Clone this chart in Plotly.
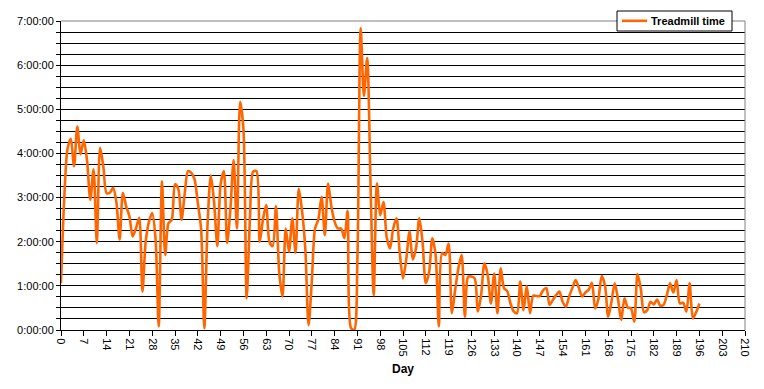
import plotly.graph_objects as go

# Day numbers (x categories)
days = list(range(0, 197))

# Treadmill time in hours
treadmill_hours = [
    1.06, 2.99, 4.10, 4.33, 3.71, 4.61, 3.98, 4.30, 3.83, 2.95,
    3.64, 1.97, 4.13, 3.70, 3.10, 3.11, 3.22, 2.90, 2.05, 3.11,
    2.80, 2.58, 2.12, 2.30, 2.54, 0.87, 2.00, 2.45, 2.65, 2.10,
    0.08, 3.37, 1.70, 2.42, 2.50, 3.30, 3.20, 2.50, 3.10, 3.60,
    3.56, 3.41, 2.88, 2.30, 0.04, 2.40, 3.50, 2.90, 1.90, 3.30,
    3.60, 1.97, 2.73, 3.85, 2.30, 5.17, 4.57, 0.72, 2.50, 3.59,
    3.60, 2.00, 2.50, 2.83, 2.00, 1.90, 2.80, 1.30, 0.76, 2.30,
    1.77, 2.53, 1.75, 3.20, 2.70, 1.85, 0.11, 1.10, 2.30, 2.50,
    3.02, 2.15, 3.32, 2.80, 2.45, 2.30, 2.30, 2.08, 2.70, 0.05,
    0.00, 1.60, 6.84, 5.30, 6.16, 3.40, 0.79, 3.32, 2.60, 2.90,
    2.10, 1.85, 2.30, 2.53, 1.75, 1.17, 1.60, 2.23, 1.60, 1.85,
    2.53, 2.00, 1.06, 1.30, 2.08, 1.70, 0.08, 1.74, 1.70, 1.96,
    0.38, 0.90, 1.40, 1.70, 0.30, 1.21, 1.21, 1.17, 0.42, 0.80,
    1.51, 1.25, 0.60, 1.28, 0.38, 1.40, 0.95, 0.88, 0.60, 0.42,
    0.38, 1.10, 0.45, 1.00, 0.38, 0.78, 0.77, 0.77, 0.90, 0.95,
    0.57, 0.68, 0.79, 0.87, 0.64, 0.53, 0.76, 0.95, 1.13, 0.95,
    0.76, 0.85, 0.91, 1.07, 0.49, 0.70, 1.22, 1.02, 0.30, 0.64,
    1.06, 0.70, 0.23, 0.72, 0.51, 0.49, 0.19, 1.27, 0.94, 0.40,
    0.45, 0.64, 0.58, 0.69, 0.55, 0.57, 0.79, 1.06, 0.85, 1.13,
    0.60, 0.62, 0.42, 1.06, 0.26, 0.40, 0.60,
]

series_name = "Treadmill time"

# Axis ticks
x_ticks = list(range(0, 211, 7))
y_tick_vals = [0, 1, 2, 3, 4, 5, 6, 7]
y_tick_text = ["0:00:00", "1:00:00", "2:00:00", "3:00:00",
               "4:00:00", "5:00:00", "6:00:00", "7:00:00"]

FONT = "Liberation Sans, Arial, sans-serif"
LINE_COLOR = "#FF6600"

# plot area in page pixels: x 61..745, y 21..330
PL, PR, PT, PB = 61, 745, 21, 330
def px(x):
    return (x - PL) / (PR - PL)
def py(y):
    return (PB - y) / (PB - PT)

fig = go.Figure()
fig.add_trace(go.Scatter(
    x=days, y=treadmill_hours, mode="lines",
    name=series_name, showlegend=False,
    line=dict(color=LINE_COLOR, width=2.6, shape="spline", smoothing=0.8),
))

# legend drawn manually (box, sample line, label)
fig.add_annotation(
    x=px(649), y=py(20.8), xref="paper", yref="paper",
    xanchor="left", yanchor="middle", showarrow=False,
    text="<b>" + series_name + "</b>",
    font=dict(family=FONT, size=11, color="black"),
)

fig.update_layout(
    width=764, height=389,
    margin=dict(l=61, r=19, t=21, b=59, autoexpand=False),
    paper_bgcolor="white", plot_bgcolor="white",
    font=dict(family=FONT, size=11, color="black"),
    showlegend=False,
    xaxis=dict(
        range=[0, 210], tickmode="array", tickvals=x_ticks,
        ticktext=[str(v) for v in x_ticks],
        tickangle=90, ticks="outside", ticklen=5, tickcolor="black",
        showgrid=False, zeroline=False, automargin=False,
        showline=True, linecolor="black", linewidth=1,
        title=dict(text="<b>Day</b>", font=dict(family=FONT, size=12), standoff=9),
        tickfont=dict(family=FONT, size=11),
    ),
    yaxis=dict(
        range=[0, 7], tickmode="array", tickvals=y_tick_vals, ticktext=y_tick_text,
        ticks="outside", ticklen=4, tickcolor="black", automargin=False,
        showgrid=True, gridcolor="black", gridwidth=1,
        zeroline=False, showline=True, linecolor="black", linewidth=1,
        tickfont=dict(family=FONT, size=11),
        minor=dict(tickmode="linear", tick0=0, dtick=0.25, showgrid=True,
                   gridcolor="black", gridwidth=1, ticks="outside",
                   ticklen=4, tickcolor="black"),
    ),
    shapes=[
        dict(type="line", xref="paper", yref="paper", x0=0, x1=1, y0=1, y1=1,
             line=dict(color="#808080", width=1), layer="above"),
        dict(type="line", xref="paper", yref="paper", x0=1, x1=1, y0=0, y1=1,
             line=dict(color="#808080", width=1), layer="above"),
        dict(type="rect", xref="paper", yref="paper",
             x0=px(617), x1=px(732), y0=py(31), y1=py(11),
             line=dict(color="black", width=1), fillcolor="white", layer="above"),
        dict(type="line", xref="paper", yref="paper",
             x0=px(622), x1=px(647), y0=py(20.8), y1=py(20.8),
             line=dict(color=LINE_COLOR, width=2.6), layer="above"),
    ],
)

fig.write_html("out.html", post_script="document.body.style.margin='0';",
               config={"displayModeBar": False})
